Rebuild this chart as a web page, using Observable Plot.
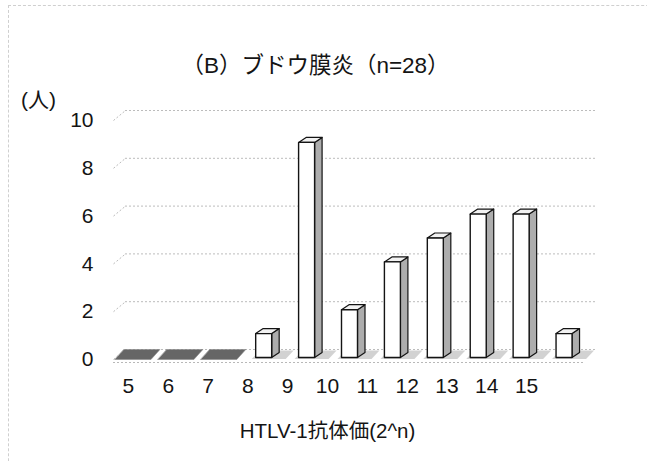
<!DOCTYPE html>
<html>
<head>
<meta charset="utf-8">
<script src="https://cdn.jsdelivr.net/npm/d3@7"></script>
<script src="https://cdn.jsdelivr.net/npm/@observablehq/plot@0.6"></script>
<style>
  html, body { margin: 0; padding: 0; background: #fff; }
  #chart { position: relative; width: 647px; height: 461px; overflow: hidden;
           font-family: "Liberation Sans", "Noto Sans CJK JP", sans-serif; }
  #chart svg { position: absolute; left: 0; overflow: visible; }
  #border { position: absolute; left: 8px; top: 5px; width: 700px; height: 520px;
            border-top: 1px dashed #cfcfcf; border-left: 1px dashed #cfcfcf; }
</style>
</head>
<body>
<div id="chart"><div id="border"></div></div>
<script>
// HTLV-1 antibody titer (2^n) and number of patients per titer
const titers = [5, 6, 7, 8, 9, 10, 11, 12, 13, 14, 15];
const counts = [0, 0, 0, 1, 9, 2, 4, 5, 6, 6, 1];
const yTicks = [0, 2, 4, 6, 8, 10];
const titleText = "（B）ブドウ膜炎（n=28）";
const yUnit = "(人)";
const xTitle = "HTLV-1抗体価(2^n)";

const W = 647, H = 461;
const M = {top: 120, bottom: 102, left: 113, right: 62};
const xDomain = [4.5, 15.5];
const yDomain = [0, 10];
const FONT = "Liberation Sans, Noto Sans CJK JP, sans-serif";
const INK = "#141414";

// pixel -> data-unit helpers for the pseudo-3D depth of the columns
const pxX = (W - M.left - M.right) / (xDomain[1] - xDomain[0]);
const pxY = (H - M.top - M.bottom) / (yDomain[1] - yDomain[0]);
const ux = px => px / pxX;
const uy = px => px / pxY;

const rows = titers.map((n, i) => ({n, c: counts[i]}));
const hw = ux(8), dX = ux(7.5), dY = uy(5);
const poly = (id, pts) => pts.map(([x, y]) => ({id, x, y}));

const filled = rows.filter(d => d.c > 0);
// flat slabs for empty titers, lying on the floor
const slabs = rows.filter(d => d.c === 0).flatMap(d => poly(d.n, [
  [d.n - hw - ux(12), -uy(2)], [d.n + hw + ux(8), -uy(2)],
  [d.n + hw + ux(17), dY + uy(3)], [d.n - hw - ux(3), dY + uy(3)]
]));
// soft shadows cast to the right of each column
const shadows = filled.flatMap(d => poly(d.n, [
  [d.n - hw - ux(4), -uy(1.5)], [d.n + hw + ux(14), -uy(1.5)],
  [d.n + hw + ux(22), dY + uy(2)], [d.n - hw + ux(4), dY + uy(2)]
]));
const frontFaces = filled.flatMap(d => poly(d.n, [
  [d.n - hw, 0], [d.n + hw, 0], [d.n + hw, d.c], [d.n - hw, d.c]
]));
const sideFaces = filled.flatMap(d => poly(d.n, [
  [d.n + hw, 0], [d.n + hw + dX, dY], [d.n + hw + dX, d.c + dY], [d.n + hw, d.c]
]));
const topFaces = filled.flatMap(d => poly(d.n, [
  [d.n - hw, d.c], [d.n + hw, d.c], [d.n + hw + dX, d.c + dY], [d.n - hw + dX, d.c + dY]
]));

const face = (data, fill, extra = {}) => Plot.line(data, {
  x: "x", y: "y", z: "id", curve: "linear-closed", dy: -2,
  fill, ...extra
});

const main = Plot.plot({
  width: W, height: H,
  marginTop: M.top, marginBottom: M.bottom, marginLeft: M.left, marginRight: M.right,
  style: {fontFamily: FONT, fontSize: "21px", color: INK, background: "transparent"},
  x: {domain: xDomain, axis: null},
  y: {domain: yDomain, axis: null},
  marks: [
    // back-wall gridlines and their left-wall stubs
    Plot.ruleY(yTicks, {dx: 12, dy: -10, stroke: "#bcbcbc", strokeDasharray: "2,2"}),
    Plot.link(yTicks, {x1: () => xDomain[0], y1: d => d, x2: () => xDomain[0] + ux(12), y2: d => d + uy(10),
      stroke: "#bcbcbc", strokeDasharray: "2,2"}),
    // floor front edge
    Plot.ruleY([0], {dy: 3, stroke: "#b8b8b8", strokeDasharray: "2,2"}),
    // y axis labels on the front edge
    Plot.axisY(yTicks, {tickSize: 0, tickPadding: 20, fontSize: 21, label: null, tickFormat: d => String(d)}),
    // floor slabs and shadows
    face(slabs, "#666666", {stroke: "#8a8a8a", strokeWidth: 0.6}),
    face(shadows, "#d2d2d2", {stroke: "none"}),
    // columns
    face(sideFaces, "#adadad", {stroke: INK, strokeWidth: 1.2}),
    face(topFaces, "#f2f2f2", {stroke: INK, strokeWidth: 1.2}),
    face(frontFaces, "#ffffff", {stroke: INK, strokeWidth: 1.4}),
    // titles
    Plot.text([titleText], {frameAnchor: "top-left", dx: 315 - M.left, dy: -63, fontSize: 22.5, textAnchor: "middle"}),
    Plot.text([yUnit], {frameAnchor: "top-left", dx: 38 - M.left, dy: -28, fontSize: 21, textAnchor: "middle"}),
    Plot.text([xTitle], {frameAnchor: "bottom-left", dx: 327 - M.left, dy: 78, fontSize: 20.5, textAnchor: "middle"})
  ]
});
main.style.top = "0px";

// category labels along the front edge of the floor (narrower due to perspective)
const axis = Plot.plot({
  width: W, height: 40,
  marginTop: 0, marginBottom: 0, marginLeft: 108, marginRight: 101,
  style: {fontFamily: FONT, fontSize: "21px", color: INK, background: "transparent"},
  x: {domain: xDomain, axis: null},
  y: {axis: null},
  marks: [
    Plot.text(titers, {x: d => d, text: d => String(d), frameAnchor: "middle", fontSize: 21})
  ]
});
axis.style.top = "366px";

const chart = document.getElementById("chart");
chart.appendChild(main);
chart.appendChild(axis);
</script>
</body>
</html>
